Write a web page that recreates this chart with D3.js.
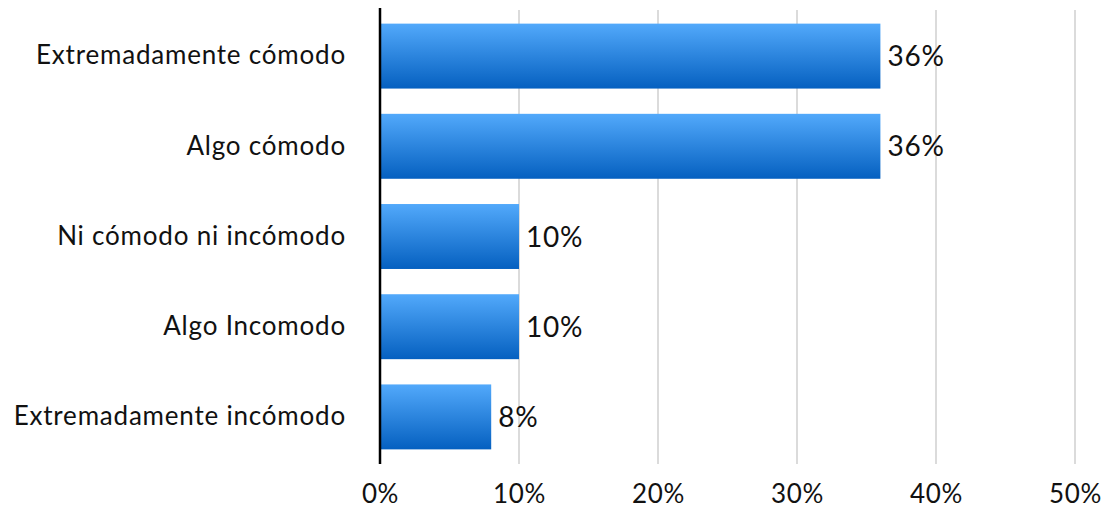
<!DOCTYPE html>
<html>
<head>
<meta charset="utf-8">
<script src="https://cdn.jsdelivr.net/npm/d3@7"></script>
<style>
  html, body { margin: 0; padding: 0; background: #fff; }
  svg { display: block; font-family: Lato, "Noto Sans", sans-serif; }
</style>
</head>
<body>
<svg id="chart" width="1114" height="510"></svg>
<script>
// Responses about comfort level, share of respondents (%)
const categories = [
  "Extremadamente cómodo",
  "Algo cómodo",
  "Ni cómodo ni incómodo",
  "Algo Incomodo",
  "Extremadamente incómodo"
];
const values = [36, 36, 10, 10, 8];
const tickValues = [0, 10, 20, 30, 40, 50];

const svg = d3.select("#chart");

const x = d3.scaleLinear().domain([0, 50]).range([380, 1075]);
const y = d3.scaleBand()
  .domain(categories)
  .range([11, 462])
  .paddingInner(0.28)
  .paddingOuter(0.14);

// Vertical blue gradient for bars
const defs = svg.append("defs");
const grad = defs.append("linearGradient")
  .attr("id", "barGrad")
  .attr("x1", 0).attr("y1", 0).attr("x2", 0).attr("y2", 1);
grad.append("stop").attr("offset", "0%").attr("stop-color", "#52a9fb");
grad.append("stop").attr("offset", "100%").attr("stop-color", "#0560c0");

// Gridlines
svg.append("g")
  .selectAll("line")
  .data(tickValues.filter(d => d > 0))
  .join("line")
  .attr("x1", d => x(d)).attr("x2", d => x(d))
  .attr("y1", 10).attr("y2", 464)
  .attr("stroke", "#cfcfcf")
  .attr("stroke-width", 1.5);

// Bars
svg.append("g")
  .selectAll("rect")
  .data(categories)
  .join("rect")
  .attr("x", x(0))
  .attr("y", d => y(d))
  .attr("width", (d, i) => x(values[i]) - x(0))
  .attr("height", y.bandwidth())
  .attr("fill", "url(#barGrad)");

// Value labels
svg.append("g")
  .selectAll("text")
  .data(categories)
  .join("text")
  .attr("x", (d, i) => x(values[i]) + 7)
  .attr("y", d => y(d) + y.bandwidth() / 2)
  .attr("dy", "0.36em")
  .attr("font-size", 28)
  .attr("letter-spacing", 0.8)
  .attr("fill", "#111")
  .text((d, i) => values[i] + "%");

// Category axis
const yAxis = svg.append("g")
  .attr("transform", `translate(${x(0)},0)`)
  .call(d3.axisLeft(y).tickSize(0).tickPadding(34));
yAxis.select(".domain").remove();
yAxis.selectAll("text")
  .attr("font-size", 26)
  .attr("letter-spacing", 0.8)
  .attr("font-family", "Lato, 'Noto Sans', sans-serif")
  .attr("fill", "#111");

// Vertical baseline
svg.append("line")
  .attr("x1", x(0)).attr("x2", x(0))
  .attr("y1", 8).attr("y2", 464)
  .attr("stroke", "#000")
  .attr("stroke-width", 2.5);

// Percent axis
const xAxis = svg.append("g")
  .attr("transform", "translate(0,476)")
  .call(d3.axisBottom(x).tickValues(tickValues).tickSize(0).tickPadding(8)
    .tickFormat(d => d + "%"));
xAxis.select(".domain").remove();
xAxis.selectAll("text")
  .attr("y", 27)
  .attr("dy", null)
  .attr("font-size", 26)
  .attr("letter-spacing", 0.6)
  .attr("font-family", "Lato, 'Noto Sans', sans-serif")
  .attr("fill", "#111");
</script>
</body>
</html>
